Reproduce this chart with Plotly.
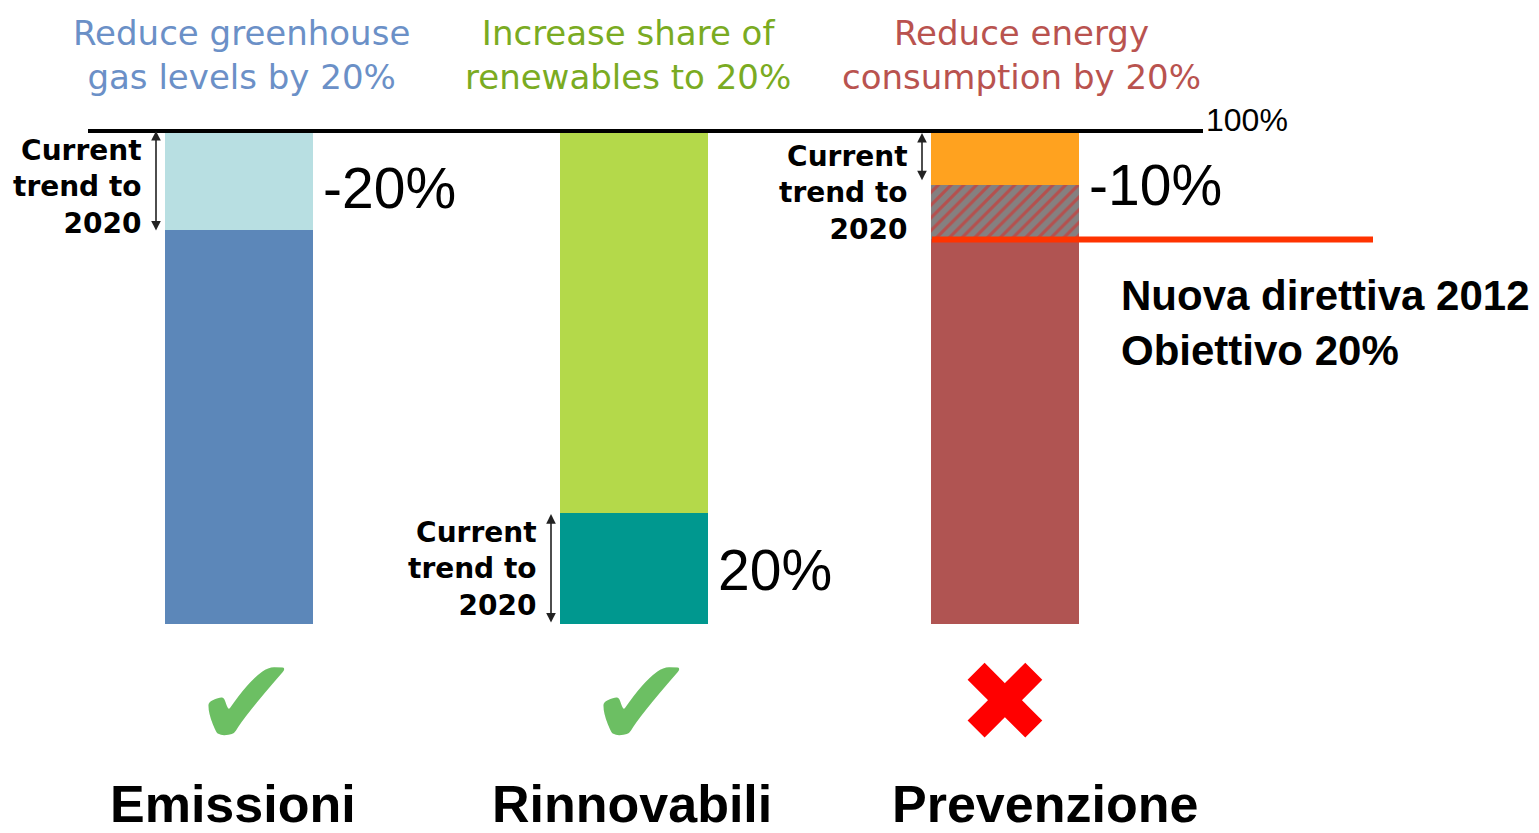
import plotly.graph_objects as go

# ---- data ----
categories = ["Emissioni", "Rinnovabili", "Prevenzione"]
base_values = [80, 22.5, 78]        # lower (current trend / remaining) segment, %
hatched_values = [0, 0, 11]         # gap to target (Prevenzione only), %
top_values = [20, 77.5, 11]         # upper segment, %
change_labels = ["-20%", "20%", "-10%"]
change_label_levels = [88.5, 11, 89]
titles = ["Reduce greenhouse<br>gas levels by 20%",
          "Increase share of<br>renewables to 20%",
          "Reduce energy<br>consumption by 20%"]
trend_arrow_ranges = [(79.5, 100), (0, 22.3), (89.7, 99.6)]
trend_label_levels = [88.6, 11.2, 87.4]
target_level = 78
full_level = 100
outcomes = ["✔", "✔", "✖"]
note_text = "Nuova direttiva 2012<br>Obiettivo 20%"

# ---- layout constants (pixel-like x scale) ----
xpos = [239, 634, 1005]
bar_w = 148
PX = 4.93            # pixels per percent
Y0 = 624             # pixel row of 0 %
OFF = 8              # page body margin
def v(py):
    return (Y0 - py) / PX

base_colors = ["#5c87b9", "#00988f", "#b05452"]
top_colors = ["#b8dfe2", "#b4d94a", "#ffa21f"]
title_colors = ["#6b90c7", "#7aab22", "#b9534f"]

fig = go.Figure()
fig.add_trace(go.Bar(x=xpos, y=base_values, width=bar_w,
                     marker=dict(color=base_colors, line=dict(width=0)),
                     hoverinfo="skip"))
fig.add_trace(go.Bar(x=xpos, y=hatched_values, width=bar_w,
                     marker=dict(color="#808080", line=dict(width=0),
                                 pattern=dict(shape="/", fgcolor="#b5504e",
                                              bgcolor="#858080", size=9,
                                              solidity=0.35, fillmode="replace")),
                     hoverinfo="skip"))
fig.add_trace(go.Bar(x=xpos, y=top_values, width=bar_w,
                     marker=dict(color=top_colors, line=dict(width=0)),
                     hoverinfo="skip"))

# 100% line and label
fig.add_shape(type="line", x0=88, x1=1203, y0=full_level, y1=full_level,
              line=dict(color="black", width=4))
fig.add_annotation(x=1204, y=full_level + 2.2, text="100%", showarrow=False,
                   xanchor="left", yanchor="middle",
                   font=dict(family="Liberation Sans", size=32, color="black"))

# target line
fig.add_shape(type="line", x0=932, x1=1373, y0=target_level, y1=target_level,
              line=dict(color="#ff3300", width=6))
fig.add_annotation(x=1119, y=v(323), text=note_text, showarrow=False,
                   xanchor="left", yanchor="middle", align="left",
                   font=dict(family="Liberation Sans", size=42, color="black", weight="bold"))

for i, cat in enumerate(categories):
    # titles
    fig.add_annotation(x=[241, 628, 1021][i], y=v(55), text=titles[i], showarrow=False,
                       xanchor="center", yanchor="middle",
                       font=dict(family="DejaVu Sans", size=34, color=title_colors[i]))
    # change labels
    fig.add_annotation(x=xpos[i] + bar_w / 2 + 8, y=change_label_levels[i],
                       text=change_labels[i], showarrow=False,
                       xanchor="left", yanchor="middle",
                       font=dict(family="Liberation Sans", size=57, color="black"))
    # trend arrows
    lo, hi = trend_arrow_ranges[i]
    ax_x = xpos[i] - bar_w / 2 - 9
    fig.add_annotation(x=ax_x, y=hi, ax=ax_x, ay=lo, axref="x", ayref="y",
                       text="", showarrow=True, arrowhead=2, arrowside="end+start",
                       arrowsize=1.2, arrowwidth=1.6, arrowcolor="#222222",
                       standoff=0, startstandoff=0)
    fig.add_annotation(x=ax_x - 12, y=trend_label_levels[i],
                       text="Current<br>trend to<br>2020", showarrow=False,
                       xanchor="right", yanchor="middle", align="right",
                       font=dict(family="DejaVu Sans", size=28, color="black", weight="bold"))
    # outcome marks
    fig.add_annotation(x=[246, 641, 1005][i], y=v(702), text=outcomes[i], showarrow=False,
                       xanchor="center", yanchor="middle",
                       font=dict(family="DejaVu Sans", size=[125, 125, 112][i],
                                 color=["#6cbf63", "#6cbf63", "#ff0000"][i]))
    # category labels
    fig.add_annotation(x=[233, 632, 1045][i], y=v(804), text=cat, showarrow=False,
                       xanchor="center", yanchor="middle",
                       font=dict(family="Liberation Sans", size=52, color="black", weight="bold"))

fig.update_layout(
    barmode="stack", showlegend=False,
    width=1539 - OFF, height=833 - OFF,
    margin=dict(l=0, r=0, t=0, b=0),
    plot_bgcolor="white", paper_bgcolor="white",
    xaxis=dict(range=[OFF, 1539], visible=False, fixedrange=True),
    yaxis=dict(range=[v(833), v(OFF)], visible=False, fixedrange=True),
)

fig.write_html("out.html")
